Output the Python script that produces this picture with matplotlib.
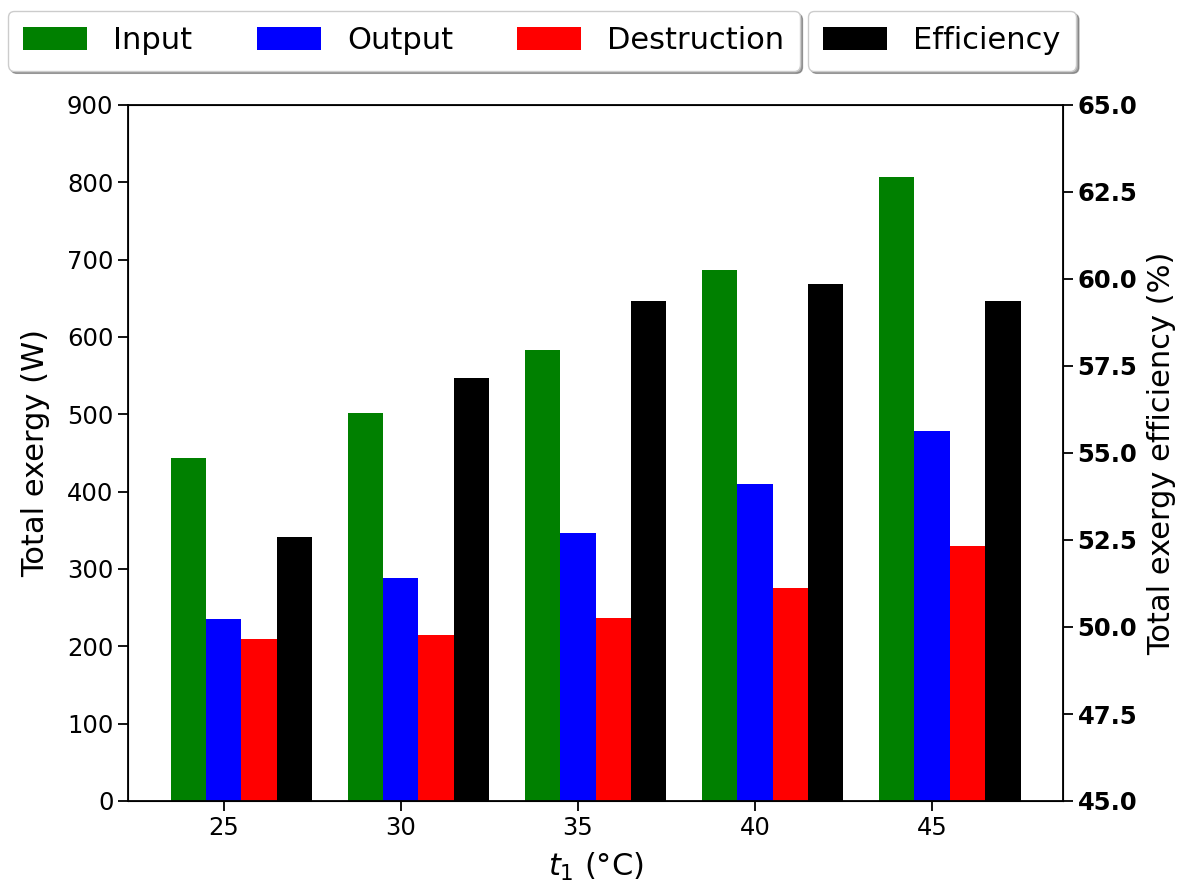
import matplotlib
matplotlib.use("Agg")
import matplotlib.pyplot as plt
import numpy as np

categories = ["25", "30", "35", "40", "45"]
input_w = [444, 502, 583, 686, 807]
output_w = [235, 289, 347, 410, 479]
destruction_w = [210, 215, 237, 276, 330]
efficiency = [52.6, 57.15, 59.37, 59.86, 59.37]

fig = plt.figure(figsize=(11.87, 8.91), dpi=100)
ax = fig.add_axes([128/1187, 1-801/891, (1063-128)/1187, (801-105)/891])
ax2 = ax.twinx()

x = np.arange(len(categories))
w = 0.2
b1 = ax.bar(x - w, input_w, w, color="green", label="Input")
b2 = ax.bar(x, output_w, w, color="blue", label="Output")
b3 = ax.bar(x + w, destruction_w, w, color="red", label="Destruction")
b4 = ax2.bar(x + 2*w, efficiency, w, color="black", label="Efficiency")

ax.set_ylim(0, 900)
ax.set_yticks(np.arange(0, 901, 100))
ax2.set_ylim(45, 65)
ax2.set_yticks(np.arange(45, 65.1, 2.5))
ax2.set_yticklabels([f"{v:.1f}" for v in np.arange(45, 65.1, 2.5)], fontweight="bold")

ax.set_xticks(x)
ax.set_xticklabels(categories)
ax.tick_params(labelsize=17.5, length=7, width=1.3)
ax2.tick_params(labelsize=17.5, length=7, width=1.3)
for s in ax.spines.values():
    s.set_linewidth(1.3)

ax.set_ylabel("Total exergy (W)", fontsize=22, labelpad=12)
ax2.set_ylabel("Total exergy efficiency (%)", fontsize=22, labelpad=7)
ax.set_xlabel("$t_1$ (°C)", fontsize=22, labelpad=8)

common = dict(fontsize=22, shadow=True, fancybox=True, borderaxespad=0,
              handlelength=2.1, columnspacing=2.1, handletextpad=0.85,
              borderpad=0.5, handleheight=0.75)
leg1 = fig.legend(handles=[b1, b2, b3], loc="upper left", ncol=3,
                  bbox_to_anchor=(8/1187, 1-11/891), **common)
leg2 = fig.legend(handles=[b4], loc="upper left",
                  bbox_to_anchor=(808/1187, 1-11/891), **common)

fig.savefig("out.png", dpi=100)
